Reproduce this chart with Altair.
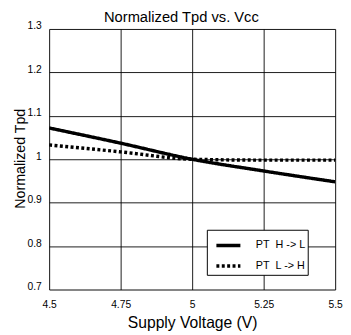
import altair as alt
import pandas as pd

voltage = [4.5, 4.75, 5.0, 5.25, 5.5]
pt_h_to_l = [1.072, 1.037, 1.0, 0.973, 0.948]
pt_l_to_h = [1.033, 1.017, 1.0, 0.998, 0.998]
series_names = ["PT\u00a0 H -> L\u00a0\u00a0\u00a0\u00a0\u00a0\u00a0", "PT\u00a0 L -> H\u00a0\u00a0\u00a0\u00a0\u00a0\u00a0"]
x_ticks = [4.5, 4.75, 5.0, 5.25, 5.5]
y_ticks = [0.7, 0.8, 0.9, 1.0, 1.1, 1.2, 1.3]

rows = []
for v, a, b in zip(voltage, pt_h_to_l, pt_l_to_h):
    rows.append({"v": v, "t": a, "s": series_names[0]})
    rows.append({"v": v, "t": b, "s": series_names[1]})
df = pd.DataFrame(rows)

FONT = "Liberation Sans"

chart = (
    alt.Chart(df)
    .mark_line(color="black", strokeWidth=3.5, interpolate="monotone", clip=True)
    .encode(
        x=alt.X(
            "v:Q",
            scale=alt.Scale(domain=[4.5, 5.5], nice=False, zero=False),
            axis=alt.Axis(
                values=x_ticks,
                labelExpr="datum.value == 5 ? '5' : format(datum.value, '')",
                title="Supply Voltage (V)",
                ticks=False,
                labelPadding=10,
                labelFontSize=10.5,
                labelFont=FONT,
                labelColor="black",
                titleFont=FONT,
                titleFontSize=16,
                titleFontWeight="normal",
                titleColor="black",
                titleBaseline="alphabetic",
                titleY=39,
                grid=True,
                gridColor="black",
                gridWidth=0.9,
                gridOpacity=1,
                domain=False,
                labelFlush=False,
            ),
        ),
        y=alt.Y(
            "t:Q",
            scale=alt.Scale(domain=[0.7, 1.3], nice=False, zero=False),
            axis=alt.Axis(
                values=y_ticks,
                labelExpr="datum.value == 1 ? '1' : format(datum.value, '.1f')",
                title="Normalized Tpd",
                ticks=False,
                labelPadding=8,
                labelBaseline="alphabetic",
                labelFontSize=10.5,
                labelFont=FONT,
                labelColor="black",
                titleFont=FONT,
                titleFontSize=14.5,
                titleFontWeight="normal",
                titleColor="black",
                titleAngle=270,
                titleBaseline="alphabetic",
                titleX=-25,
                titleY=132,
                grid=True,
                gridColor="black",
                gridWidth=0.9,
                gridOpacity=1,
                domain=False,
                labelFlush=False,
            ),
        ),
        strokeDash=alt.StrokeDash(
            "s:N",
            scale=alt.Scale(domain=series_names, range=[[1, 0], [3, 2.5]]),
            legend=alt.Legend(
                title=None,
                orient="none",
                legendX=161,
                legendY=205,
                symbolType="stroke",
                symbolSize=600,
                symbolStrokeWidth=3.5,
                symbolStrokeColor="black",
                strokeColor="black",
                fillColor="white",
                padding=2,
                rowPadding=0,
                symbolOffset=6,
                labelFont=FONT,
                labelFontSize=11,
                labelColor="black",
                labelOffset=14,
            ),
        ),
    )
    .properties(
        width=292,
        height=266,
        title=alt.TitleParams(
            "Normalized Tpd vs. Vcc",
            font=FONT,
            fontSize=15,
            fontWeight="normal",
            color="black",
            offset=0,
            dx=-11,
            dy=16,
            baseline="alphabetic",
        ),
        autosize=alt.AutoSizeParams(type="none"),
        padding={"left": 42, "top": 18, "right": 8, "bottom": 42},
    )
    .configure_view(stroke="black", strokeWidth=1.6)
    .configure(background="white")
)

chart.save("out.html", embed_options={"renderer": "svg", "actions": False})
